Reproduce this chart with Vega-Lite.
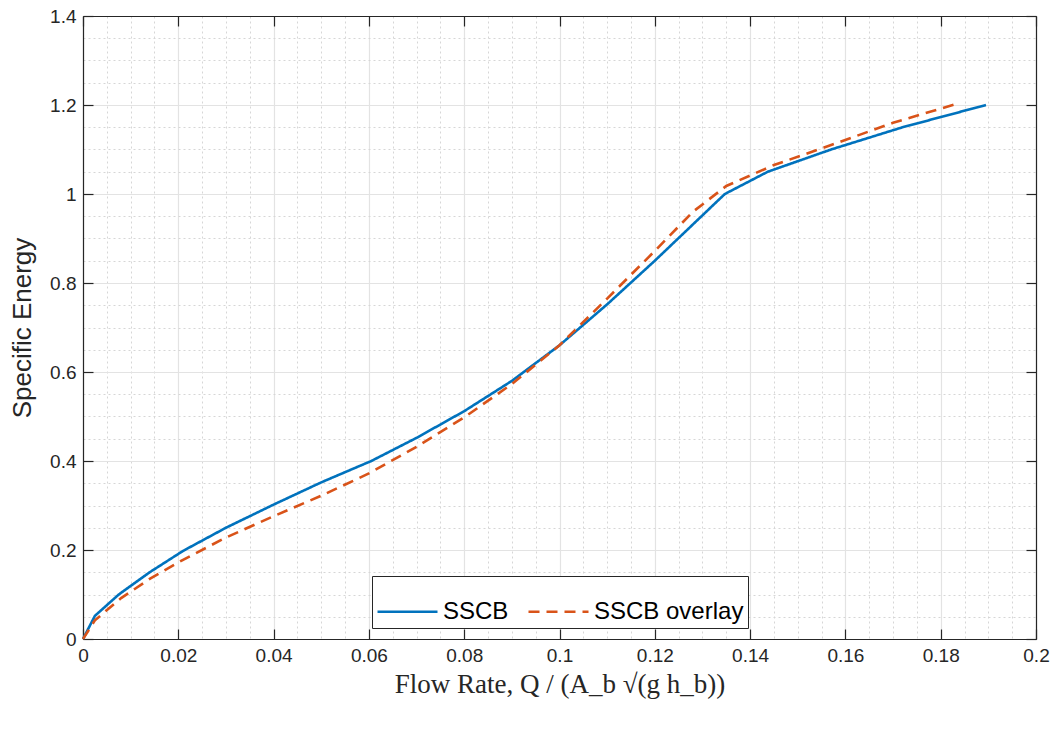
{
  "$schema": "https://vega.github.io/schema/vega-lite/v6.json",
  "width": 953,
  "height": 623,
  "autosize": {"type": "none"},
  "padding": {"left": 83, "top": 16, "right": 21, "bottom": 90},
  "background": "white",
  "config": {
    "view": {"stroke": null},
    "font": "Liberation Sans",
    "axis": {"labelFont": "Liberation Sans", "labelColor": "#262626", "titleColor": "#262626", "domainColor": "#262626", "tickColor": "#262626", "domainWidth": 1.2, "tickWidth": 1.2}
  },
  "data": {
    "values": [
      {"x": 0, "y": 0, "series": "SSCB"},
      {"x": 0.0025, "y": 0.052, "series": "SSCB"},
      {"x": 0.0075, "y": 0.1, "series": "SSCB"},
      {"x": 0.014, "y": 0.15, "series": "SSCB"},
      {"x": 0.021, "y": 0.198, "series": "SSCB"},
      {"x": 0.03, "y": 0.25, "series": "SSCB"},
      {"x": 0.04, "y": 0.302, "series": "SSCB"},
      {"x": 0.05, "y": 0.352, "series": "SSCB"},
      {"x": 0.0605, "y": 0.4, "series": "SSCB"},
      {"x": 0.07, "y": 0.452, "series": "SSCB"},
      {"x": 0.08, "y": 0.512, "series": "SSCB"},
      {"x": 0.09, "y": 0.58, "series": "SSCB"},
      {"x": 0.1, "y": 0.66, "series": "SSCB"},
      {"x": 0.11, "y": 0.752, "series": "SSCB"},
      {"x": 0.12, "y": 0.85, "series": "SSCB"},
      {"x": 0.1347, "y": 1.0, "series": "SSCB"},
      {"x": 0.1437, "y": 1.05, "series": "SSCB"},
      {"x": 0.157, "y": 1.1, "series": "SSCB"},
      {"x": 0.172, "y": 1.15, "series": "SSCB"},
      {"x": 0.1895, "y": 1.2, "series": "SSCB"},
      {"x": 0, "y": 0, "series": "SSCB overlay"},
      {"x": 0.0025, "y": 0.042, "series": "SSCB overlay"},
      {"x": 0.008, "y": 0.092, "series": "SSCB overlay"},
      {"x": 0.014, "y": 0.135, "series": "SSCB overlay"},
      {"x": 0.021, "y": 0.178, "series": "SSCB overlay"},
      {"x": 0.03, "y": 0.228, "series": "SSCB overlay"},
      {"x": 0.04, "y": 0.276, "series": "SSCB overlay"},
      {"x": 0.05, "y": 0.322, "series": "SSCB overlay"},
      {"x": 0.06, "y": 0.372, "series": "SSCB overlay"},
      {"x": 0.07, "y": 0.432, "series": "SSCB overlay"},
      {"x": 0.08, "y": 0.498, "series": "SSCB overlay"},
      {"x": 0.09, "y": 0.573, "series": "SSCB overlay"},
      {"x": 0.1, "y": 0.66, "series": "SSCB overlay"},
      {"x": 0.11, "y": 0.765, "series": "SSCB overlay"},
      {"x": 0.12, "y": 0.872, "series": "SSCB overlay"},
      {"x": 0.128, "y": 0.96, "series": "SSCB overlay"},
      {"x": 0.135, "y": 1.018, "series": "SSCB overlay"},
      {"x": 0.145, "y": 1.065, "series": "SSCB overlay"},
      {"x": 0.157, "y": 1.11, "series": "SSCB overlay"},
      {"x": 0.17, "y": 1.16, "series": "SSCB overlay"},
      {"x": 0.1835, "y": 1.203, "series": "SSCB overlay"}
    ]
  },
  "resolve": {"axis": {"x": "independent", "y": "independent"}},
  "layer": [
    {
      "mark": {"type": "line", "strokeOpacity": 0},
      "encoding": {
        "x": {"field": "x", "type": "quantitative", "scale": {"domain": [0, 0.2], "nice": false, "zero": false},
          "axis": {"orient": "bottom", "values": [0.005,0.01,0.015,0.025,0.03,0.035,0.045,0.05,0.055,0.065,0.07,0.075,0.085,0.09,0.095,0.105,0.11,0.115,0.125,0.13,0.135,0.145,0.15,0.155,0.165,0.17,0.175,0.185,0.19,0.195],
            "grid": true, "gridDash": [2, 3], "gridColor": "#d6d6d6", "gridWidth": 1, "labels": false, "ticks": false, "domain": false, "title": null}},
        "y": {"field": "y", "type": "quantitative", "scale": {"domain": [0, 1.4], "nice": false, "zero": false},
          "axis": {"orient": "left", "values": [0.05,0.1,0.15,0.25,0.3,0.35,0.45,0.5,0.55,0.65,0.7,0.75,0.85,0.9,0.95,1.05,1.1,1.15,1.25,1.3,1.35],
            "grid": true, "gridDash": [2, 3], "gridColor": "#d6d6d6", "gridWidth": 1, "labels": false, "ticks": false, "domain": false, "title": null}},
        "detail": {"field": "series"}
      }
    },
    {
      "mark": {"type": "line", "strokeOpacity": 0},
      "encoding": {
        "x": {"field": "x", "type": "quantitative",
          "axis": {"orient": "top", "values": [0,0.02,0.04,0.06,0.08,0.1,0.12,0.14,0.16,0.18,0.2], "grid": false, "labels": false, "ticks": true, "tickSize": -10, "domain": true, "title": null}},
        "y": {"field": "y", "type": "quantitative",
          "axis": {"orient": "right", "values": [0,0.2,0.4,0.6,0.8,1,1.2,1.4], "grid": false, "labels": false, "ticks": true, "tickSize": -10, "domain": true, "title": null}},
        "detail": {"field": "series"}
      }
    },
    {
      "mark": {"type": "line", "strokeWidth": 2.6, "strokeCap": "butt"},
      "encoding": {
        "x": {"field": "x", "type": "quantitative",
          "axis": {"orient": "bottom", "values": [0,0.02,0.04,0.06,0.08,0.1,0.12,0.14,0.16,0.18,0.2], "format": "~g", "grid": true, "gridColor": "#e3e3e3", "gridWidth": 1.2,
            "tickSize": -10, "labelPadding": 17, "labelFontSize": 19, "labelFlush": false,
            "title": "Flow Rate, Q / (A_b √(g h_b))", "titleFont": "Liberation Serif", "titleFontSize": 27, "titleFontWeight": "normal", "titlePadding": 6}},
        "y": {"field": "y", "type": "quantitative",
          "axis": {"orient": "left", "values": [0,0.2,0.4,0.6,0.8,1,1.2,1.4], "format": "~g", "grid": true, "gridColor": "#e3e3e3", "gridWidth": 1.2,
            "tickSize": -10, "labelPadding": 17, "labelFontSize": 19, "labelFlush": false,
            "title": "Specific Energy", "titleFontSize": 26, "titleFontWeight": "normal", "titlePadding": 14}},
        "color": {"field": "series", "type": "nominal",
          "scale": {"domain": ["SSCB", "SSCB overlay"], "range": ["#0072BD", "#D95319"]},
          "legend": {"orient": "none", "legendX": 289, "legendY": 560, "direction": "horizontal", "title": null,
            "symbolType": "stroke", "symbolSize": 3600, "symbolStrokeWidth": 2.6, "labelFontSize": 24, "labelColor": "#000000",
            "strokeColor": "#262626", "fillColor": "white", "padding": 4, "columnPadding": 14, "labelOffset": 4}},
        "strokeDash": {"field": "series", "type": "nominal",
          "scale": {"domain": ["SSCB", "SSCB overlay"], "range": [[1, 0], [11, 7]]},
          "legend": null}
      }
    }
  ]
}
